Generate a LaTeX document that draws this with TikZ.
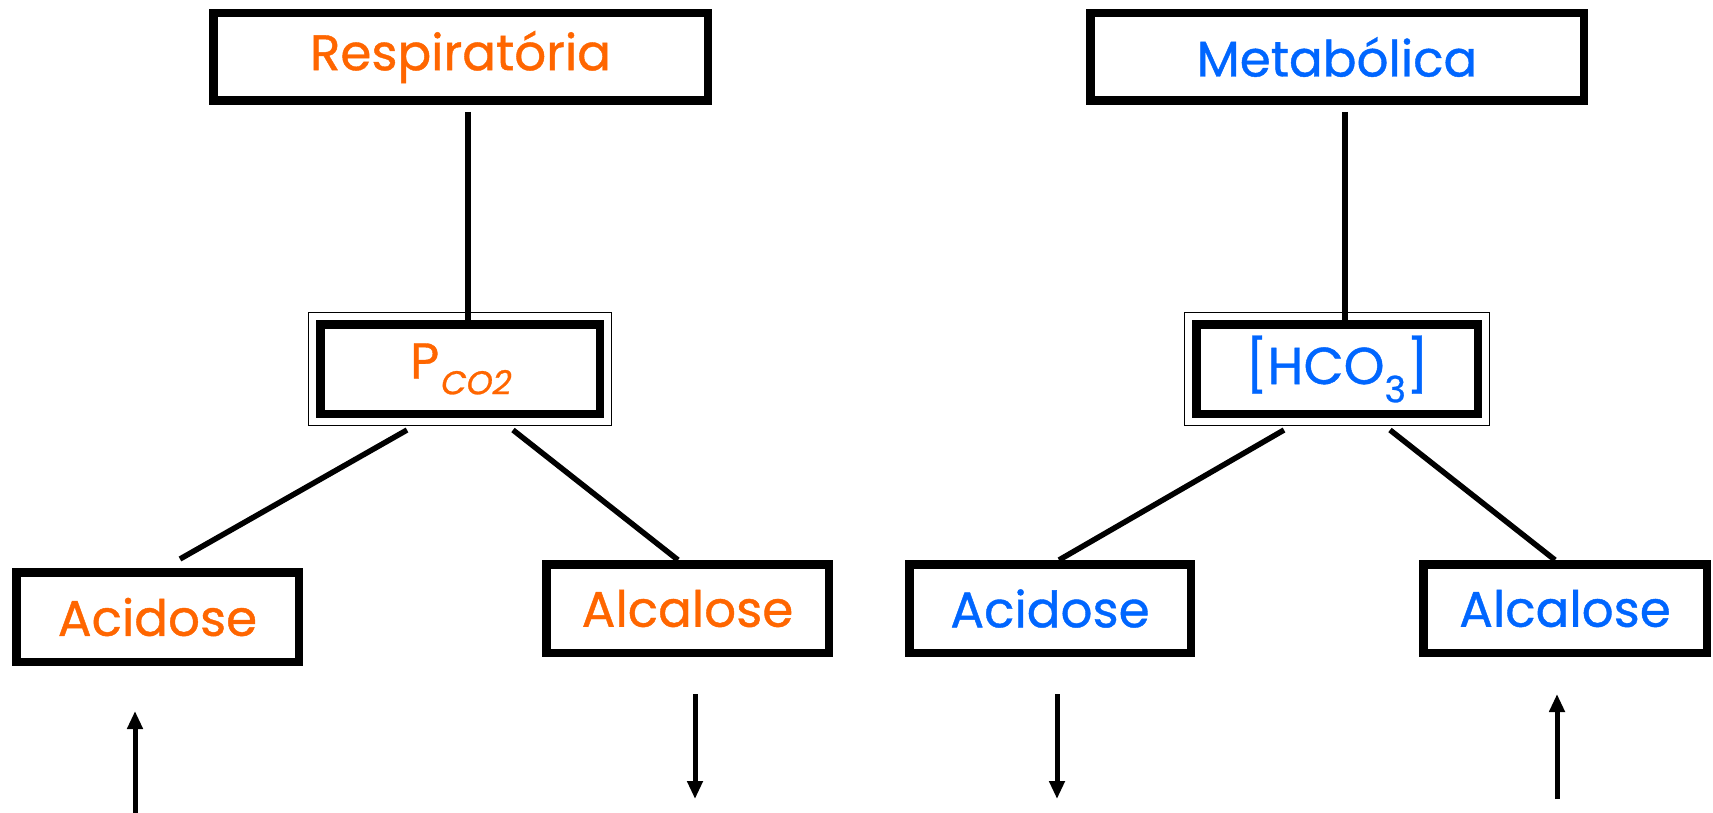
\documentclass[tikz,border=0pt]{standalone}
\usepackage{fontspec}
\setmainfont[FakeBold=0.8]{Poppins}
\newfontfamily\slantfont[FakeSlant=0.2,FakeBold=0.8]{Poppins}
\usetikzlibrary{arrows.meta,calc}
\definecolor{orng}{HTML}{FF6600}
\definecolor{blu}{HTML}{0066FF}
\begin{document}
\begin{tikzpicture}[x=1pt,y=-1pt,
  box/.style={draw=black,line width=8.5pt,fill=white,inner sep=0pt,
    font=\fontsize{50}{56}\selectfont},
  frame/.style={draw=black,line width=1.5pt},
  conn/.style={draw=black,line width=5.5pt},
  arr/.style={draw=black,line width=5pt,-{Triangle[width=15pt,length=18pt]}}]
\path[use as bounding box] (0,0) rectangle (1713,813);
\fill[white] (0,0) rectangle (1713,813);

% top boxes
\node[box,minimum width=494.5pt,minimum height=87.5pt,text=orng] (resp) at (460.5,57) {Respiratória};
\node[box,minimum width=493.5pt,minimum height=87.5pt,text=blu] (meta) at (1337,57) {Metabólica};

% double boxes
\node[box,minimum width=279.5pt,minimum height=89.5pt,text=orng] (pco2) at (460,369)
  {P\raisebox{-0.32em}{\fontsize{33}{33}\slantfont CO2}};
\node[box,minimum width=281.5pt,minimum height=89.5pt,text=blu,font=\fontsize{52}{58}\selectfont] (hco3) at (1337,369)
  {[HCO\textsubscript{3}]};
\draw[frame] ($(pco2.north west)+(-7.5,-7.5)$) rectangle ($(pco2.south east)+(7.5,7.5)$);
\draw[frame] ($(hco3.north west)+(-7.5,-7.5)$) rectangle ($(hco3.south east)+(7.5,7.5)$);

% bottom boxes
\node[box,minimum width=282.5pt,minimum height=89.5pt,text=orng] (acidL) at (157.5,617) {Acidose};
\node[box,minimum width=282.5pt,minimum height=88.5pt,text=orng] (alcL) at (687.5,608.5) {Alcalose};
\node[box,minimum width=281.5pt,minimum height=88.5pt,text=blu] (acidR) at (1050,608.5) {Acidose};
\node[box,minimum width=283.5pt,minimum height=88.5pt,text=blu] (alcR) at (1565,608.5) {Alcalose};

% connectors
\draw[conn] ([xshift=7.5pt,yshift=-7pt]resp.south) -- ([xshift=8pt]pco2.north);
\draw[conn] ([xshift=8pt,yshift=-7pt]meta.south) -- ([xshift=8pt]hco3.north);
\draw[conn] ([xshift=-53pt,yshift=-12pt]pco2.south) -- ([xshift=22.5pt,yshift=9pt]acidL.north);
\draw[conn] ([xshift=53pt,yshift=-12pt]pco2.south) -- ([xshift=-9.5pt]alcL.north);
\draw[conn] ([xshift=-53pt,yshift=-12pt]hco3.south) -- ([xshift=9pt]acidR.north);
\draw[conn] ([xshift=53pt,yshift=-12pt]hco3.south) -- ([xshift=-10pt]alcR.north);

% arrows
\draw[arr] ([xshift=-22.5pt,yshift=-150pt]acidL.south) -- ([xshift=-22.5pt,yshift=-45pt]acidL.south);
\draw[arr] ([xshift=7.5pt,yshift=-37pt]alcL.south) -- ([xshift=7.5pt,yshift=-142pt]alcL.south);
\draw[arr] ([xshift=7pt,yshift=-37pt]acidR.south) -- ([xshift=7pt,yshift=-142pt]acidR.south);
\draw[arr] ([xshift=-8pt,yshift=-142pt]alcR.south) -- ([xshift=-8pt,yshift=-37pt]alcR.south);
\end{tikzpicture}
\end{document}
